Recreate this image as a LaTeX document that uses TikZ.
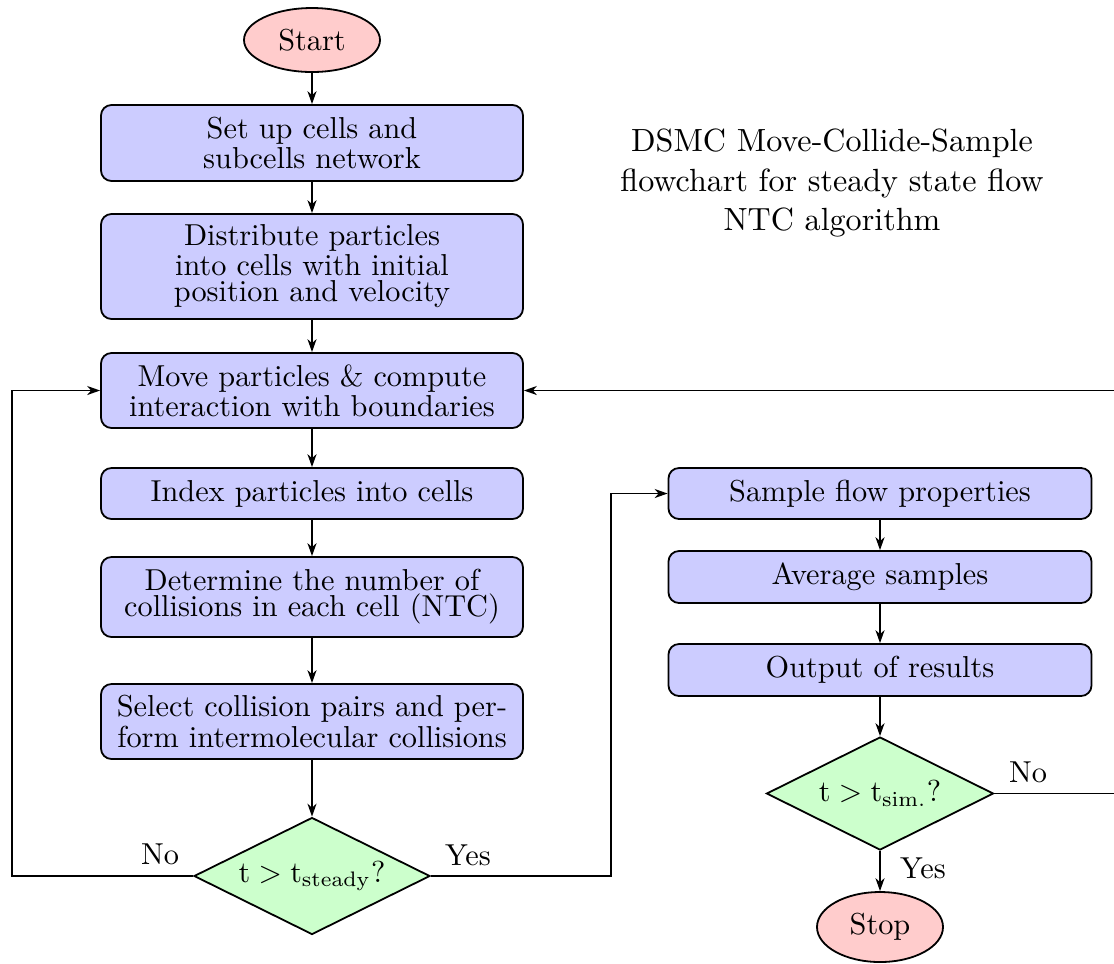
\documentclass[tikz,border=0pt]{standalone}
\usetikzlibrary{shapes.geometric,arrows.meta}
\begin{document}
\begin{tikzpicture}[x=0.33333pt,y=-0.33333pt,
  box/.style={draw, line width=0.6pt, rounded corners=3.5pt, fill=blue!20, align=center, inner sep=0pt,
    minimum width={422pt/3}, font=\fontsize{10.1}{8.7}\selectfont},
  term/.style={draw, line width=0.6pt, ellipse, fill=red!20, inner sep=0pt, font=\fontsize{10.1}{12}\selectfont},
  dec/.style={draw, line width=0.6pt, diamond, aspect=2, fill=green!20, inner sep=0pt, font=\fontsize{10.1}{12}\selectfont},
  lbl/.style={font=\fontsize{10.1}{12}\selectfont, inner sep=0pt},
  arr/.style={line width=0.6pt, -{Stealth[length=4.3pt,width=3pt,inset=1.3pt]}}]
\path[use as bounding box] (0,0) rectangle (1114,963);
\clip (0,0) rectangle (1114,963);

\node[term, minimum width={136pt/3}, minimum height={64pt/3}] (start) at (312,40) {Start};
\node[box, minimum height={76pt/3}] (b1) at (312,143) {Set up cells and\\subcells network};
\node[box, minimum height={105pt/3}] (b2) at (312,266.5) {Distribute particles\\into cells with initial\\position and velocity};
\node[box, minimum height={75pt/3}] (b3) at (312,390.5) {Move particles \& compute\\interaction with boundaries};
\node[box, minimum height={51pt/3}] (b4) at (312,493.5) {Index particles into cells};
\node[box, minimum height={80pt/3}] (b5) at (312,597) {Determine the number of\\collisions in each cell (NTC)};
\node[box, minimum height={75pt/3}] (b6) at (312,721.5) {Select collision pairs and per-\\form intermolecular collisions};
\node[dec, minimum width={236pt/3}, minimum height={117pt/3}] (d1) at (312,876) {$\mathrm{t} > \mathrm{t}_{\mathrm{steady}}$?};

\node[box, minimum width={423pt/3}, minimum height={51pt/3}] (r1) at (880,493.5) {Sample flow properties};
\node[box, minimum width={423pt/3}, minimum height={52pt/3}] (r2) at (880,577) {Average samples};
\node[box, minimum width={423pt/3}, minimum height={52pt/3}] (r3) at (880,670) {Output of results};
\node[dec, minimum width={227pt/3}, minimum height={113pt/3}] (d2) at (880,793.5) {$\mathrm{t} > \mathrm{t}_{\mathrm{sim.}}$?};
\node[term, minimum width={126pt/3}, minimum height={70pt/3}] (stop) at (880,927) {Stop};

\node[lbl, align=center, font=\fontsize{10.7}{13.2}\selectfont] (title) at (832,183) {DSMC Move-Collide-Sample\\flowchart for steady state flow\\NTC algorithm};

\node[lbl] (no1) at (160,854) {No};
\node[lbl] (yes1) at (468,855) {Yes};
\node[lbl] (no2) at (1028,772) {No};
\node[lbl] (yes2) at (923,868) {Yes};

\coordinate (lx) at (12,0);
\coordinate (yx) at (611,0);
\coordinate (rx) at (1135,0);

\draw[arr] (start) -- (b1);
\draw[arr] (b1) -- (b2);
\draw[arr] (b2) -- (b3);
\draw[arr] (b3) -- (b4);
\draw[arr] (b4) -- (b5);
\draw[arr] (b5) -- (b6);
\draw[arr] (b6) -- (d1);
\draw[arr] (r1) -- (r2);
\draw[arr] (r2) -- (r3);
\draw[arr] (r3) -- (d2);
\draw[arr] (d2) -- (stop);
\draw[arr] (d1.west) -- (d1.west -| lx) |- (b3.west);
\draw[arr] (d1.east) -- (d1.east -| yx) |- (r1.west);
\draw[arr] (d2.east) -- (d2.east -| rx) |- (b3.east);
\end{tikzpicture}
\end{document}
